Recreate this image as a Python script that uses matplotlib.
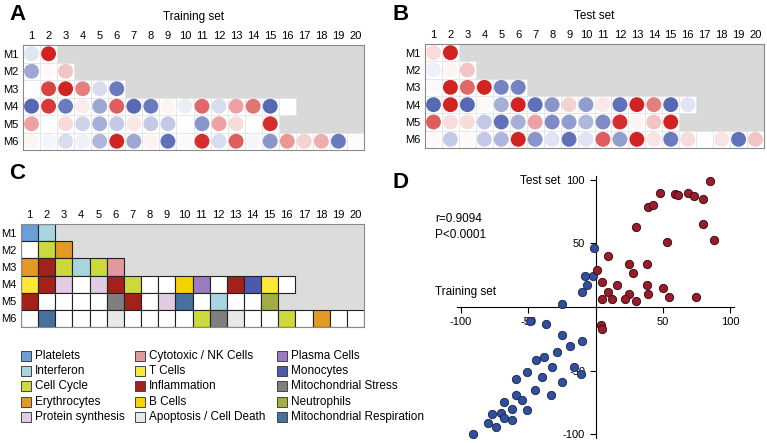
import numpy as np
import matplotlib
matplotlib.use('Agg')
import matplotlib.pyplot as plt
from matplotlib.colors import LinearSegmentedColormap
from matplotlib.patches import Rectangle

plt.rcParams['font.family'] = ['Liberation Sans', 'DejaVu Sans']
plt.rcParams['axes.unicode_minus'] = False

modules = ['M1', 'M2', 'M3', 'M4', 'M5', 'M6']
columns = list(range(1, 21))

# module scores (-1 blue .. +1 red), one list per module row
train_vals = [
    [-0.15, 0.95],
    [-0.5, 0.03, 0.25],
    [0.0, 0.8, 0.95, 0.55, -0.2, -0.75],
    [-0.85, 0.85, -0.75, 0.08, -0.5, 0.7, -0.85, -0.75, 0.05, -0.1, 0.65, -0.2, 0.4, 0.6, -0.85, 0.0],
    [0.4, 0.0, 0.15, -0.25, -0.45, -0.3, 0.1, -0.3, -0.3, 0.0, -0.6, 0.4, 0.15, 0.0, 0.9],
    [0.04, -0.05, -0.2, -0.08, -0.4, 0.95, -0.5, 0.05, -0.8, 0.03, 0.9, -0.2, 0.7, -0.05, -0.6, 0.45, 0.2, 0.35, -0.75, 0.02],
]
test_vals = [
    [0.15, 0.95],
    [-0.08, 0.04, 0.25],
    [0.03, 0.95, 0.65, 0.95, -0.7, -0.7],
    [-0.85, 0.95, -0.85, 0.02, -0.45, 0.95, -0.8, -0.6, 0.2, -0.55, 0.1, -0.8, 0.95, 0.55, -0.85, -0.15],
    [0.7, 0.15, 0.15, -0.3, -0.8, -0.45, 0.4, -0.65, -0.55, -0.4, -0.65, 0.9, 0.05, 0.25, 0.95],
    [0.03, -0.3, 0.03, -0.3, -0.4, 0.95, -0.6, -0.15, -0.8, -0.15, 0.7, -0.55, 0.95, 0.12, -0.75, 0.15, 0.0, 0.12, -0.8, 0.25],
]

# module annotation for panel C
module_cats = [
    ['Platelets', 'Interferon'],
    [None, 'Cell Cycle', 'Erythrocytes'],
    ['Erythrocytes', 'Inflammation', 'Cell Cycle', 'Interferon', 'Cell Cycle', 'Cytotoxic / NK Cells'],
    ['T Cells', 'Inflammation', 'Protein synthesis', None, 'Protein synthesis', 'Inflammation', 'Cell Cycle',
     None, None, 'B Cells', 'Plasma Cells', None, 'Inflammation', 'Monocytes', 'T Cells', None],
    ['Inflammation', None, None, None, None, 'Mitochondrial Stress', 'Inflammation', None, 'Protein synthesis',
     'Mitochondrial Respiration', None, 'Interferon', None, None, 'Neutrophils'],
    [None, 'Mitochondrial Respiration', None, None, None, 'Apoptosis / Cell Death', None, None, None, None,
     'Cell Cycle', 'Mitochondrial Stress', 'Apoptosis / Cell Death', None, None, 'Cell Cycle', None,
     'Erythrocytes', None, None],
]

legend_cols = [
    ['Platelets', 'Interferon', 'Cell Cycle', 'Erythrocytes', 'Protein synthesis'],
    ['Cytotoxic / NK Cells', 'T Cells', 'Inflammation', 'B Cells', 'Apoptosis / Cell Death'],
    ['Plasma Cells', 'Monocytes', 'Mitochondrial Stress', 'Neutrophils', 'Mitochondrial Respiration'],
]
cat_colors = {
    'Platelets': '#6a9fd8', 'Interferon': '#a8d5e0', 'Cell Cycle': '#ccd93c',
    'Erythrocytes': '#e39a25', 'Protein synthesis': '#e2cce4',
    'Cytotoxic / NK Cells': '#e0999c', 'T Cells': '#fde838', 'Inflammation': '#a3211b',
    'B Cells': '#f6d200', 'Apoptosis / Cell Death': '#e8e8e8',
    'Plasma Cells': '#9b7cc0', 'Monocytes': '#4c5aad', 'Mitochondrial Stress': '#7f7f7f',
    'Neutrophils': '#a2ae45', 'Mitochondrial Respiration': '#47709e',
}

# panel D: training vs test set scores
red_x = [85, 48, 59, 61, 69, 73, 80, 39, 43, 80, 30, 88, 53, 9, 25, 38, 1, 28, 5, 16, 38, 50, 9, 25, 39, 55, 75, 5, 12, 22, 30, 4, 5]
red_y = [99, 90, 89, 88, 90, 87, 85, 79, 80, 65, 63, 53, 51, 40, 34, 34, 29, 27, 20, 17, 17, 15, 12, 10, 10, 8, 8, 6, 6, 6, 5, -14, -17]
blue_x = [-10, -6, -8, -2, -1, -25, -49, -37, -25, -10, -19, -29, -38, -44, -32, -16, -11, -51, -40, -59, -25, -45,
          -33, -59, -55, -68, -62, -51, -70, -77, -68, -62, -80, -74, -91]
blue_y = [12, 17, 24, 24, 46, 2, -11, -13, -22, -27, -31, -35, -39, -42, -47, -47, -53, -51, -55, -57, -59, -65,
          -69, -69, -73, -75, -80, -81, -83, -84, -87, -89, -91, -94, -100]

cmap = LinearSegmentedColormap.from_list('bwr2', ['#3a4ea8', '#ffffff', '#d01818'])

W, H = 767, 443
fig = plt.figure(figsize=(W / 100, H / 100), dpi=100)


def px_axes(x0, y0, x1, y1):
    return fig.add_axes([x0 / W, 1 - y1 / H, (x1 - x0) / W, (y1 - y0) / H])


def grid_setup(ax):
    ax.set_xlim(0, 20)
    ax.set_ylim(6, 0)
    ax.set_xticks(np.arange(20) + 0.5)
    ax.set_xticklabels([str(c) for c in columns], fontsize=8)
    ax.set_yticks(np.arange(6) + 0.5)
    ax.set_yticklabels(modules, fontsize=8)
    ax.xaxis.tick_top()
    ax.tick_params(length=0, pad=3)
    for s in ax.spines.values():
        s.set_color('#8a8a8a')
        s.set_linewidth(0.8)


def dot_panel(ax, vals, title):
    ax.set_facecolor('#d9d9d9')
    xs, ys, cs = [], [], []
    for r, row in enumerate(vals):
        for c, v in enumerate(row):
            ax.add_patch(Rectangle((c, r), 1, 1, fc='white', ec='#e4e4e4', lw=0.6))
            xs.append(c + 0.5)
            ys.append(r + 0.5)
            cs.append(v)
    ax.scatter(xs, ys, c=cs, cmap=cmap, vmin=-1, vmax=1, s=115, linewidths=0, zorder=3)
    grid_setup(ax)
    ax.set_title(title, fontsize=8.5, pad=18)


axA = px_axes(23, 45, 364, 150)
dot_panel(axA, train_vals, 'Training set')
axB = px_axes(425, 44, 764, 148)
dot_panel(axB, test_vals, 'Test set')

# panel C
axC = px_axes(21, 224, 364, 327)
axC.set_facecolor('#dcdcdc')
for r, row in enumerate(module_cats):
    for c, cat in enumerate(row):
        fc = cat_colors[cat] if cat else 'white'
        axC.add_patch(Rectangle((c, r), 1, 1, fc=fc, ec='#222222', lw=0.8, zorder=2))
grid_setup(axC)

# legend for panel C
for j, col in enumerate(legend_cols):
    x0 = [21, 135, 277][j]
    for i, cat in enumerate(col):
        y = 356 + i * 15.2
        fig.add_artist(Rectangle((x0 / W, 1 - (y + 5) / H), 10 / W, 10 / H,
                                 transform=fig.transFigure, fc=cat_colors[cat], ec='#444444', lw=0.7))
        fig.text((x0 + 14) / W, 1 - y / H, cat, fontsize=8.5, va='center', ha='left')

# panel D
axD = px_axes(457, 176, 734, 438)
axD.scatter(blue_x, blue_y, s=36, c='#2f4f9f', edgecolors='#1a2340', linewidths=0.6, zorder=3)
axD.scatter(red_x, red_y, s=36, c='#9b1b2a', edgecolors='#2a0a0e', linewidths=0.6, zorder=3)
axD.set_xlim(-103, 103)
axD.set_ylim(-103, 103)
axD.spines['left'].set_position(('data', 0))
axD.spines['bottom'].set_position(('data', 0))
axD.spines['right'].set_visible(False)
axD.spines['top'].set_visible(False)
axD.set_xticks([-100, -50, 50, 100])
axD.set_yticks([-100, -50, 50, 100])
axD.tick_params(labelsize=8, length=4, width=0.8)
fig.text(435 / W, 1 - 292 / H, 'Training set', fontsize=8.5, va='center')
fig.text(435 / W, 1 - 227 / H, 'r=0.9094\nP<0.0001', fontsize=8.5, va='center', linespacing=1.4)
fig.text(520 / W, 1 - 181 / H, 'Test set', fontsize=8.5, va='center')

for lab, (x, y) in zip('ABCD', [(9, 14), (392, 14), (9, 174), (392, 182)]):
    fig.text(x / W, 1 - y / H, lab, fontsize=16, fontweight='bold', va='center')

fig.savefig('out.png', dpi=100)
